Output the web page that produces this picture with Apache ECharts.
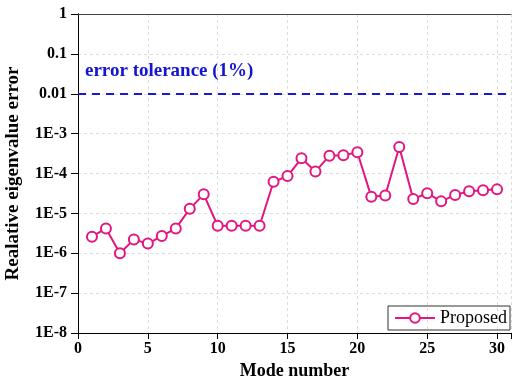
<!DOCTYPE html>
<html><head><meta charset="utf-8">
<script src="https://cdn.jsdelivr.net/npm/echarts@6/dist/echarts.min.js"></script>
<style>html,body{margin:0;padding:0;background:#fff}#c{width:516px;height:385px}</style>
</head><body><div id="c"></div>
<script>
const modes = [1,2,3,4,5,6,7,8,9,10,11,12,13,14,15,16,17,18,19,20,21,22,23,24,25,26,27,28,29,30];
const errors = [2.6e-6,4.2e-6,1.0e-6,2.2e-6,1.75e-6,2.7e-6,4.2e-6,1.3e-5,3.0e-5,4.9e-6,4.9e-6,4.9e-6,4.9e-6,6.2e-5,8.6e-5,2.4e-4,1.12e-4,2.8e-4,2.85e-4,3.4e-4,2.6e-5,2.8e-5,4.6e-4,2.3e-5,3.2e-5,2.0e-5,2.9e-5,3.6e-5,3.8e-5,4.0e-5];
const tolerance = 0.01;
const xTicks = [0,5,10,15,20,25,30];

const serif = '"Liberation Serif","Times New Roman",serif';
const chart = echarts.init(document.getElementById('c'));
const frameAxisX = {type:'value',min:0,max:31,position:'top',axisLine:{show:true,onZero:false,lineStyle:{color:'#444'}},axisTick:{show:false},axisLabel:{show:false},splitLine:{show:false}};
const frameAxisY = {type:'log',logBase:10,min:1e-8,max:1,position:'right',axisLine:{show:true,lineStyle:{color:'#000'}},axisTick:{show:false},axisLabel:{show:false},splitLine:{show:false}};
chart.setOption({
  animation:false,
  grid:{left:78,right:5,top:14,bottom:52,containLabel:false,outerBoundsMode:'none'},
  legend:{
    right:6,bottom:55,data:['Proposed'],
    itemWidth:40,itemHeight:12,itemGap:4,
    borderColor:'#333',borderWidth:1,padding:[3,3,3,6],
    textStyle:{fontFamily:serif,fontSize:18,color:'#000'}
  },
  xAxis:[{
    type:'value',min:0,max:31,interval:5,
    name:'Mode number',nameLocation:'middle',nameGap:29,
    nameTextStyle:{fontFamily:serif,fontSize:18,fontWeight:'bold',color:'#000'},
    axisLine:{onZero:false,lineStyle:{color:'#000'}},
    axisTick:{show:true,inside:false,length:6,lineStyle:{color:'#000'}},
    axisLabel:{fontFamily:serif,fontSize:16,fontWeight:'bold',color:'#000',margin:8,
      formatter:v=>xTicks.indexOf(v)>=0?String(v):''},
    splitLine:{show:true,lineStyle:{color:'#ddd',type:[3,3]}}
  }, frameAxisX],
  yAxis:[{
    type:'log',logBase:10,min:1e-8,max:1,
    name:'Realative eigenvalue error',nameLocation:'middle',nameGap:55,
    nameTextStyle:{fontFamily:serif,fontSize:19,fontWeight:'bold',color:'#000'},
    axisLine:{lineStyle:{color:'#000'}},
    axisTick:{show:true,inside:false,length:7,lineStyle:{color:'#000'}},
    axisLabel:{fontFamily:serif,fontSize:16,fontWeight:'bold',color:'#000',margin:11,
      formatter:v=>{
        const e=Math.round(Math.log10(v));
        if(e===0) return '1';
        if(e===-1) return '0.1';
        if(e===-2) return '0.01';
        return '1E'+e;
      }},
    splitLine:{show:true,lineStyle:{color:'#ddd',type:[3,3]}}
  }, frameAxisY],
  series:[
    {
      name:'Proposed',type:'line',
      data:modes.map((m,i)=>[m,errors[i]]),
      symbol:'circle',symbolSize:10,
      lineStyle:{color:'#E3167F',width:2},
      itemStyle:{color:'#fff',borderColor:'#E3167F',borderWidth:2},
      markLine:{
        silent:true,symbol:'none',
        lineStyle:{color:'#1a1ad6',type:[8,6],width:2},
        label:{show:false},
        data:[{yAxis:tolerance}]
      },
      z:3
    }
  ],
  graphic:[{
    type:'text',left:85,top:62,
    style:{text:'error tolerance (1%)',fill:'#1515d0',font:'bold 19px '+serif}
  }]
});
</script></body></html>
